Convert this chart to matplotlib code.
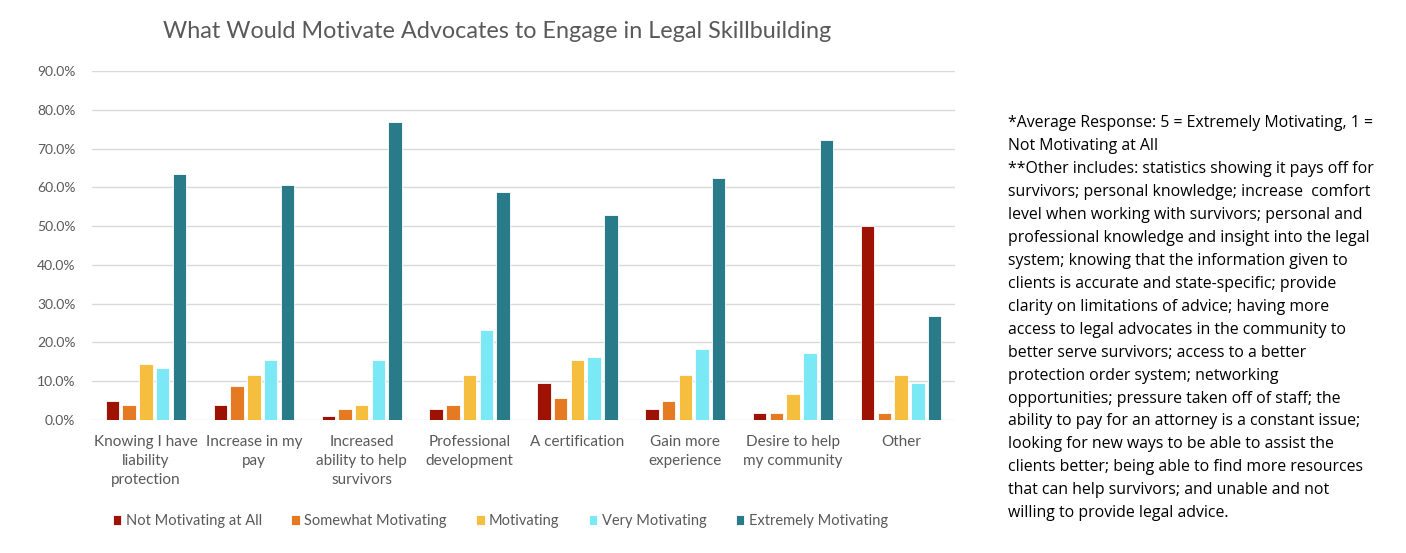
import numpy as np
import matplotlib.pyplot as plt
from matplotlib.ticker import PercentFormatter

categories = ["Knowing I have\nliability\nprotection", "Increase in my\npay",
              "Increased\nability to help\nsurvivors", "Professional\ndevelopment",
              "A certification", "Gain more\nexperience", "Desire to help\nmy community",
              "Other"]
series_names = ["Not Motivating at All", "Somewhat Motivating", "Motivating",
                "Very Motivating", "Extremely Motivating"]
not_motivating = [4.8, 3.8, 1.0, 2.9, 9.6, 2.9, 1.9, 50.0]
somewhat = [3.8, 8.7, 2.9, 3.8, 5.8, 4.8, 1.9, 1.9]
motivating = [14.4, 11.5, 3.8, 11.5, 15.4, 11.5, 6.7, 11.5]
very = [13.5, 15.4, 15.4, 23.1, 16.3, 18.3, 17.3, 9.6]
extremely = [63.5, 60.6, 76.9, 58.7, 52.9, 62.5, 72.1, 26.9]
colors = ["#9E1203", "#E57A22", "#F5BE3F", "#7BE9F5", "#2A7B89"]

note = ("*Average Response: 5 = Extremely Motivating, 1 =\n"
        "Not Motivating at All\n"
        "**Other includes: statistics showing it pays off for\n"
        "survivors; personal knowledge; increase  comfort\n"
        "level when working with survivors; personal and\n"
        "professional knowledge and insight into the legal\n"
        "system; knowing that the information given to\n"
        "clients is accurate and state-specific; provide\n"
        "clarity on limitations of advice; having more\n"
        "access to legal advocates in the community to\n"
        "better serve survivors; access to a better\n"
        "protection order system; networking\n"
        "opportunities; pressure taken off of staff; the\n"
        "ability to pay for an attorney is a constant issue;\n"
        "looking for new ways to be able to assist the\n"
        "clients better; being able to find more resources\n"
        "that can help survivors; and unable and not\n"
        "willing to provide legal advice.")

plt.rcParams['font.family'] = ['Lato', 'DejaVu Sans']
grey = "#595959"

fig = plt.figure(figsize=(14.06, 5.53), dpi=100)
ax = fig.add_axes([92 / 1406, 1 - 420 / 553, 863 / 1406, 349 / 553])

x = np.arange(len(categories))
data = [not_motivating, somewhat, motivating, very, extremely]
step = 0.155
width = 0.125
for i, (vals, name, c) in enumerate(zip(data, series_names, colors)):
    ax.bar(x + (i - 2) * step, vals, width, color=c, label=name,
           edgecolor="white", linewidth=0.6, zorder=3)

ax.set_xlim(-0.5, len(categories) - 0.5)
ax.set_ylim(0, 90)
ax.set_yticks(np.arange(0, 91, 10))
ax.yaxis.set_major_formatter(PercentFormatter(decimals=1))
ax.grid(axis="y", color="#D9D9D9", linewidth=1.0, zorder=0)
for s in ax.spines.values():
    s.set_visible(False)
ax.set_xticks(x)
ax.set_xticklabels(categories, fontsize=11, color=grey, linespacing=1.45)
ax.tick_params(axis="both", length=0, colors=grey)
ax.tick_params(axis="x", pad=11)
ax.tick_params(axis="y", labelsize=10, pad=12)

fig.text(497 / 1406, 1 - 32 / 553, "What Would Motivate Advocates to Engage in Legal Skillbuilding",
         ha="center", va="center", fontsize=16.8, color=grey)

ax.legend(loc="center", bbox_to_anchor=(0.473, -0.29), ncol=5, frameon=False,
          fontsize=10.5, handlelength=0.6, handleheight=0.6, handletextpad=0.3,
          columnspacing=2.0, labelcolor=grey)

fig.text(1008 / 1406, 1 - 115 / 553, note, ha="left", va="top", fontsize=11.4,
         family=['Open Sans', 'DejaVu Sans'], color="black", linespacing=1.58)

fig.savefig("out.png", dpi=100)
